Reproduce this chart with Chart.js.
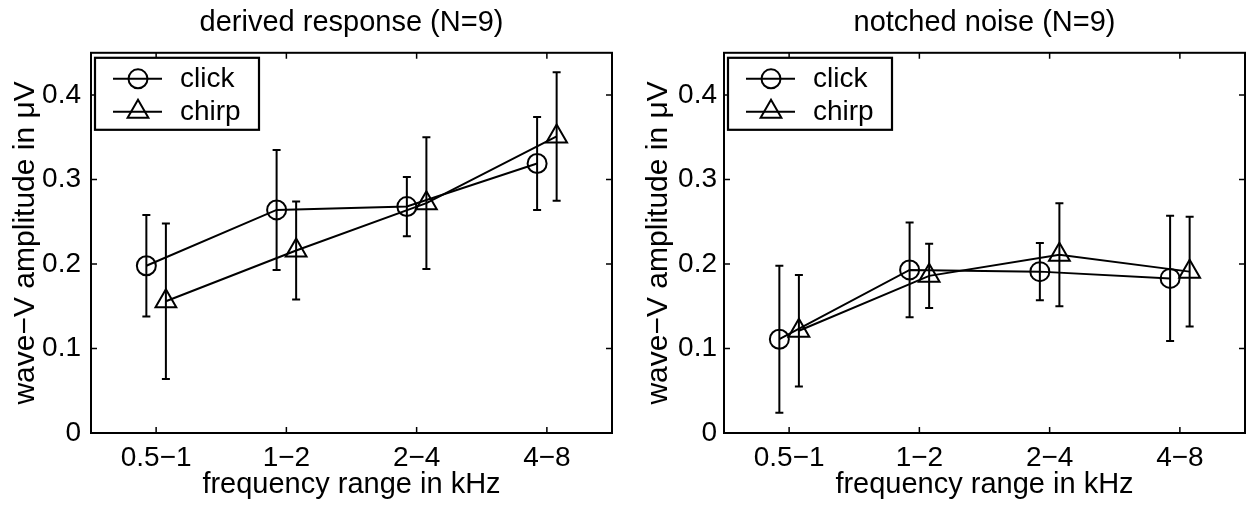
<!DOCTYPE html>
<html>
<head>
<meta charset="utf-8">
<script src="https://cdn.jsdelivr.net/npm/chart.js@4.4.1/dist/chart.umd.min.js"></script>
<style>
  body { margin: 0; background: #fff; }
  #wrap { position: relative; width: 1246px; height: 507px; }
  canvas { position: absolute; top: 0; }
  #left { left: 0; }
  #right { left: 630px; }
</style>
</head>
<body>
<div id="wrap">
  <canvas id="left" width="630" height="507"></canvas>
  <canvas id="right" width="616" height="507"></canvas>
</div>
<script>
const categories = ['0.5−1', '1−2', '2−4', '4−8'];
const yTicks = [0, 0.1, 0.2, 0.3, 0.4];
const seriesNames = ['click', 'chirp'];

// derived response (N=9)
const derivedClick = [0.198, 0.264, 0.268, 0.319];
const derivedClickErr = [0.060, 0.071, 0.035, 0.055];
const derivedChirp = [0.156, 0.216, 0.272, 0.351];
const derivedChirpErr = [0.092, 0.058, 0.078, 0.076];

// notched noise (N=9)
const notchedClick = [0.111, 0.193, 0.191, 0.183];
const notchedClickErr = [0.087, 0.056, 0.034, 0.074];
const notchedChirp = [0.121, 0.186, 0.211, 0.191];
const notchedChirpErr = [0.066, 0.038, 0.061, 0.065];

const fontFamily = "'Liberation Sans', Arial, Helvetica, sans-serif";
Chart.defaults.font.family = fontFamily;
Chart.defaults.color = '#000';

// error bars drawn under the markers
const errorBars = {
  id: 'errorBars',
  beforeDatasetsDraw(chart) {
    const ctx = chart.ctx;
    const y = chart.scales.y;
    ctx.save();
    ctx.strokeStyle = '#000';
    ctx.lineWidth = 2;
    chart.data.datasets.forEach((ds, di) => {
      const meta = chart.getDatasetMeta(di);
      ds.data.forEach((p, i) => {
        const px = meta.data[i].x;
        const top = y.getPixelForValue(p.y + ds.errors[i]);
        const bot = y.getPixelForValue(p.y - ds.errors[i]);
        ctx.beginPath();
        ctx.moveTo(px, top); ctx.lineTo(px, bot);
        ctx.moveTo(px - 4, top); ctx.lineTo(px + 4, top);
        ctx.moveTo(px - 4, bot); ctx.lineTo(px + 4, bot);
        ctx.stroke();
      });
    });
    ctx.restore();
  }
};

// matlab style box with inward ticks, plus boxed legend
const frameAndLegend = {
  id: 'frameAndLegend',
  afterDraw(chart) {
    const ctx = chart.ctx;
    const a = chart.chartArea;
    const xs = chart.scales.x, ys = chart.scales.y;
    ctx.save();
    ctx.strokeStyle = '#000';
    ctx.lineWidth = 2;
    ctx.strokeRect(a.left, a.top, a.right - a.left, a.bottom - a.top);
    ctx.lineWidth = 1.5;
    ctx.beginPath();
    yTicks.forEach(v => {
      const py = ys.getPixelForValue(v);
      ctx.moveTo(a.left, py); ctx.lineTo(a.left + 6, py);
      ctx.moveTo(a.right, py); ctx.lineTo(a.right - 6, py);
    });
    categories.forEach((c, i) => {
      const px = xs.getPixelForValue(i + 1);
      ctx.moveTo(px, a.bottom); ctx.lineTo(px, a.bottom - 6);
      ctx.moveTo(px, a.top); ctx.lineTo(px, a.top + 6);
    });
    ctx.stroke();

    // legend
    const bx = a.left + 4, by = a.top + 5, bw = 164, bh = 72;
    ctx.fillStyle = '#fff';
    ctx.fillRect(bx, by, bw, bh);
    ctx.lineWidth = 2.2;
    ctx.strokeRect(bx, by, bw, bh);
    const rows = [by + 21, by + 54];
    chart.data.datasets.forEach((ds, di) => {
      const ry = rows[di];
      ctx.lineWidth = 2;
      ctx.beginPath();
      ctx.moveTo(bx + 18, ry); ctx.lineTo(bx + 67, ry);
      ctx.stroke();
      ctx.fillStyle = 'rgba(0,0,0,0)';
      Chart.helpers.drawPoint(ctx, {
        pointStyle: ds.pointStyle, radius: ds.pointRadius,
        borderWidth: 2, rotation: 0
      }, bx + 43, ry);
      ctx.fillStyle = '#000';
      ctx.font = '28px ' + fontFamily;
      ctx.textBaseline = 'middle';
      ctx.textAlign = 'left';
      ctx.fillText(ds.label, bx + 85, ry);
    });
    ctx.restore();
  }
};

function series(values, errors, offset, name, style, radius) {
  return {
    label: name,
    data: values.map((v, i) => ({ x: i + 1 + offset, y: v })),
    errors: errors,
    showLine: true,
    borderColor: '#000',
    borderWidth: 2,
    pointStyle: style,
    pointRadius: radius,
    pointHoverRadius: radius,
    pointBorderColor: '#000',
    pointBackgroundColor: 'rgba(0,0,0,0)',
    pointBorderWidth: 2,
    clip: false
  };
}

function makePanel(id, title, click, clickErr, chirp, chirpErr, lay) {
  new Chart(document.getElementById(id), {
    type: 'scatter',
    data: {
      datasets: [
        series(click, clickErr, -0.075, seriesNames[0], 'circle', 9.5),
        series(chirp, chirpErr, 0.075, seriesNames[1], 'triangle', 12)
      ]
    },
    options: {
      responsive: false,
      animation: false,
      layout: {
        autoPadding: false,
        padding: { left: 0, top: 0, right: lay.padRight, bottom: 0 }
      },
      plugins: {
        legend: { display: false },
        tooltip: { enabled: false },
        title: {
          display: true,
          text: title,
          fullSize: false,
          color: '#000',
          font: { size: 29, weight: 'normal' },
          padding: { top: 6, bottom: 12 }
        }
      },
      scales: {
        x: {
          type: 'linear',
          min: 0.5,
          max: 4.5,
          grid: { display: false, drawTicks: false },
          border: { display: false },
          afterBuildTicks: s => { s.ticks = categories.map((c, i) => ({ value: i + 1 })); },
          afterFit: s => { s.height = 74; s.paddingLeft = 0; s.paddingRight = 0; },
          ticks: {
            autoSkip: false,
            maxRotation: 0,
            padding: 8,
            font: { size: 28 },
            callback: v => categories[Math.round(v) - 1]
          },
          title: {
            display: true,
            text: 'frequency range in kHz',
            font: { size: 29 },
            padding: { top: 0, bottom: 5 }
          }
        },
        y: {
          type: 'linear',
          min: 0,
          max: 0.45,
          grid: { display: false, drawTicks: false },
          border: { display: false },
          afterBuildTicks: s => { s.ticks = yTicks.map(v => ({ value: v })); },
          afterFit: s => { s.width = lay.yWidth; },
          ticks: {
            padding: lay.tickPad,
            font: { size: 28 },
            callback: v => String(v)
          },
          title: {
            display: true,
            text: 'wave−V amplitude in μV',
            font: { size: 30 },
            padding: { top: lay.yTitlePad, bottom: 0 }
          }
        }
      }
    },
    plugins: [errorBars, frameAndLegend]
  });
}

makePanel('left', 'derived response (N=9)', derivedClick, derivedClickErr,
  derivedChirp, derivedChirpErr, { yWidth: 91, yTitlePad: 8, tickPad: 10, padRight: 18 });
makePanel('right', 'notched noise (N=9)', notchedClick, notchedClickErr,
  notchedChirp, notchedChirpErr, { yWidth: 94, yTitlePad: 11, tickPad: 7, padRight: 1 });
</script>
</body>
</html>
